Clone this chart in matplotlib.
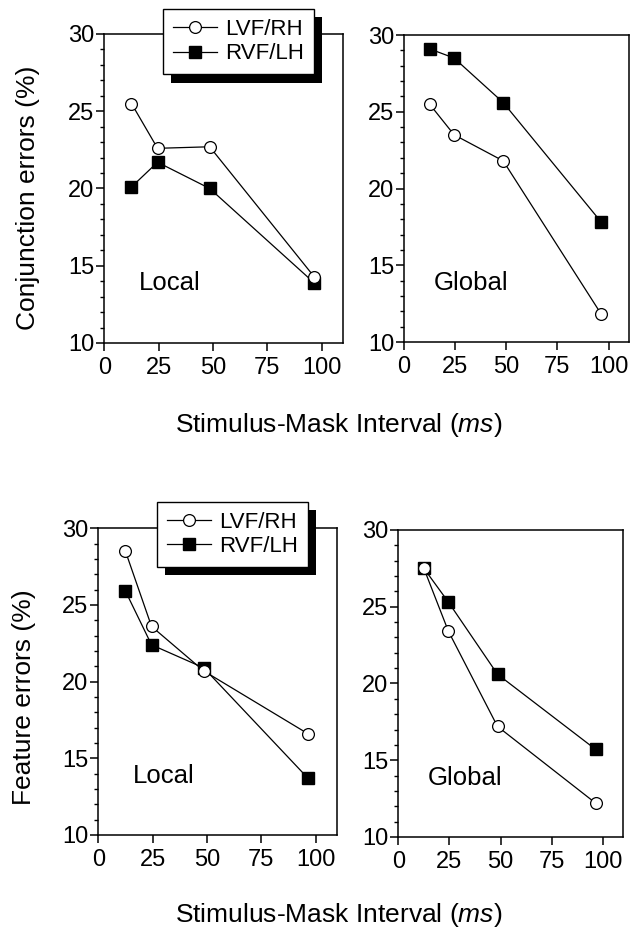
import numpy as np
import matplotlib
matplotlib.use("Agg")
import matplotlib.pyplot as plt
import matplotlib.patheffects as pe
from matplotlib.ticker import MultipleLocator

plt.rcParams['font.family'] = ['Liberation Sans', 'DejaVu Sans']
plt.rcParams['mathtext.fontset'] = 'custom'
plt.rcParams['mathtext.rm'] = 'Liberation Sans'
plt.rcParams['mathtext.it'] = 'Liberation Sans:italic'

# stimulus-mask intervals (ms)
soa = [12.5, 24.5, 48.5, 96.5]

# conjunction errors (%)
conj_local_lvf = [25.5, 22.6, 22.7, 14.3]
conj_local_rvf = [20.1, 21.7, 20.0, 13.9]
conj_global_lvf = [25.5, 23.5, 21.8, 11.8]
conj_global_rvf = [29.1, 28.5, 25.6, 17.8]

# feature errors (%)
feat_local_lvf = [28.5, 23.6, 20.7, 16.6]
feat_local_rvf = [25.9, 22.4, 20.9, 13.7]
feat_global_lvf = [27.5, 23.4, 17.2, 12.2]
feat_global_rvf = [27.5, 25.3, 20.6, 15.7]

series_names = ["LVF/RH", "RVF/LH"]
xticks = [0, 25, 50, 75, 100]
yticks = [10, 15, 20, 25, 30]

fig = plt.figure(figsize=(6.33, 9.34), dpi=100)

# panel boxes in figure fractions
ax_tl = fig.add_axes([0.1648, 0.6328, 0.3776, 0.3308])
ax_tr = fig.add_axes([0.6382, 0.6338, 0.3555, 0.3287])
ax_bl = fig.add_axes([0.1553, 0.1060, 0.3776, 0.3284])
ax_br = fig.add_axes([0.6292, 0.1039, 0.3555, 0.3287])

panels = [
    (ax_tl, conj_local_lvf, conj_local_rvf, "Local", 16),
    (ax_tr, conj_global_lvf, conj_global_rvf, "Global", 14.6),
    (ax_bl, feat_local_lvf, feat_local_rvf, "Local", 16),
    (ax_br, feat_global_lvf, feat_global_rvf, "Global", 14.6),
]

for ax, lvf, rvf, name, tx in panels:
    ax.plot(soa, rvf, "k-", lw=0.9, marker="s", ms=8, mfc="k", mec="k", label=series_names[1], zorder=3)
    ax.plot(soa, lvf, "k-", lw=0.9, marker="o", ms=8.5, mfc="white", mec="k", mew=0.9, label=series_names[0], zorder=4)
    ax.set_xlim(0, 110)
    ax.set_ylim(10, 30)
    ax.set_xticks(xticks)
    ax.set_yticks(yticks)
    ax.yaxis.set_minor_locator(MultipleLocator(1))
    ax.tick_params(axis="both", which="major", direction="out", length=6, width=1.1, labelsize=17, colors="k")
    ax.tick_params(axis="y", which="major", pad=1)
    ax.tick_params(axis="x", which="major", pad=4)
    ax.tick_params(axis="y", which="minor", direction="out", length=3, width=1)
    for s in ax.spines.values():
        s.set_linewidth(1.1)
    ax.text(tx, 13.85, name, fontsize=18.5, ha="left", va="center")

ax_tl.set_ylabel("Conjunction errors (%)", fontsize=19)
ax_tl.yaxis.set_label_coords(-0.27, 0.47)
ax_bl.set_ylabel("Feature errors (%)", fontsize=19)
ax_bl.yaxis.set_label_coords(-0.26, 0.45)

# legends with solid black drop shadow
for ax, anchor in [(ax_tl, (0.2575, 0.9904)), (ax_bl, (0.2476, 0.4629))]:
    h, l = ax.get_legend_handles_labels()
    leg = ax.legend(h[::-1], l[::-1], loc="upper left", bbox_to_anchor=anchor,
                    bbox_transform=fig.transFigure, fontsize=16, frameon=True,
                    fancybox=False, edgecolor="k", framealpha=1, borderpad=0.45,
                    labelspacing=0.15, handlelength=2.0, handletextpad=0.35,
                    borderaxespad=0, numpoints=1)
    leg.get_frame().set_linewidth(1)
    leg.get_frame().set_path_effects([pe.SimplePatchShadow(offset=(6, -6), shadow_rgbFace="k", alpha=1), pe.Normal()])
    leg.set_zorder(10)

fig.text(0.535, 0.545, r"Stimulus-Mask Interval ($\mathit{ms}$)", fontsize=19, ha="center", va="center")
fig.text(0.535, 0.020, r"Stimulus-Mask Interval ($\mathit{ms}$)", fontsize=19, ha="center", va="center")

fig.savefig("out.png", dpi=100)
